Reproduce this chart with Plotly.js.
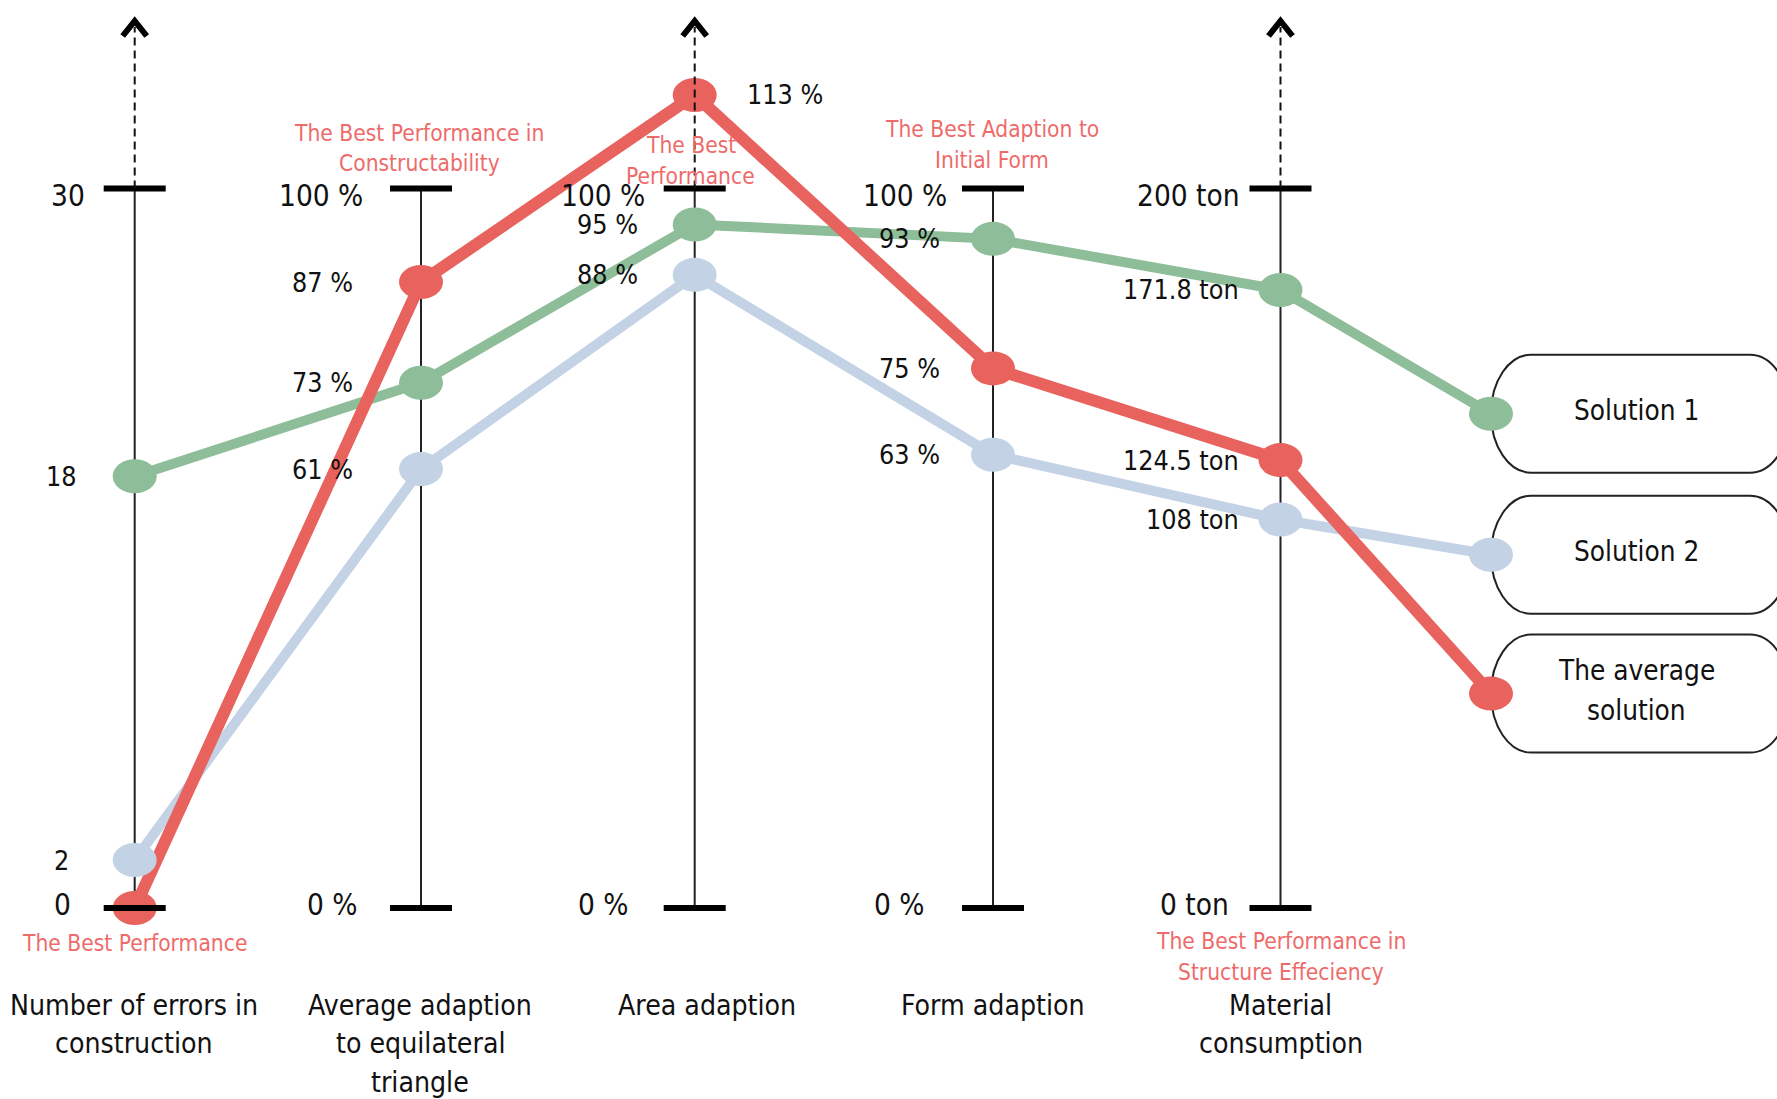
<!DOCTYPE html>
<html>
<head>
<meta charset="utf-8">
<script src="https://cdn.plot.ly/plotly-3.0.1.min.js"></script>
<style>
  html, body { margin: 0; padding: 0; background: #fff; overflow: hidden; }
  #chart { width: 1777px; height: 1099px; }
</style>
</head>
<body>
<div id="chart"></div>
<script>
// ---- Data -------------------------------------------------------------
// Parallel axes, left to right
const criteria = [
  ['Number of errors in', 'construction'],
  ['Average adaption', 'to equilateral', 'triangle'],
  ['Area adaption'],
  ['Form adaption'],
  ['Material', 'consumption']
];
const axisMax = [30, 100, 100, 100, 200];
const units = ['', ' %', ' %', ' %', ' ton'];

const seriesNames = [['Solution 1'], ['Solution 2'], ['The average', 'solution']];
const solution1 = [18, 73, 95, 93, 171.8];
const solution2 = [2, 61, 88, 63, 108];
const averageSolution = [0, 87, 113, 75, 124.5];

const bestNotes = [
  ['The Best Performance'],
  ['The Best Performance in', 'Constructability'],
  ['The Best', 'Performance'],
  ['The Best Adaption to', 'Initial Form'],
  ['The Best Performance in', 'Structure Effeciency']
];

// ---- Layout constants (pixels) ----------------------------------------
const W = 1777, H = 1099;
const AXIS_X = [134.7, 421, 694.7, 993, 1280.5];
const OPEN_TOP = [true, false, true, false, true];     // axes drawn with an upward arrow
const KEY_X = 1491;
const KEY_Y = [0.687, 0.491, 0.298];                    // key pill centres, fraction of axis height
const Y_BOTTOM = 908, Y_TOP = 188.5;
const UNIT = Y_BOTTOM - Y_TOP;
const yRange = [-(H - Y_BOTTOM) / UNIT, Y_BOTTOM / UNIT];

const FONT = "'DejaVu Sans Condensed', 'DejaVu Sans', sans-serif";
const INK = '#111111';
const NOTE_RED = '#EE6B6B';
const SIZE = { title: 28.2, key: 27.7, note: 22.6, tick: 29.5, value: 26.7 };

const paperY = py => 1 - py / H;
const frac = py => (Y_BOTTOM - py) / UNIT;
const fracToPx = f => Y_BOTTOM - f * UNIT;

// label offsets next to each axis
const DATA_DX   = [-73, -66, -55, -51, -40];
const TOP_DX    = [-67, -56, -48, -44, -38.5];
const BOTTOM_DX = [-72, -61, -64, -66, -50];
const anchorFor = i => (i === 0 ? 'center' : 'right');

const series = [
  { values: solution2,       key: 1, color: '#C3D2E5', width: 10 },
  { values: solution1,       key: 0, color: '#8DBD99', width: 10 },
  { values: averageSolution, key: 2, color: '#E8625E', width: 12 }
];

// ---- Traces: one polyline per solution, ending at its key pill --------
const traces = series.map(s => ({
  type: 'scatter',
  mode: 'lines',
  x: AXIS_X.concat([KEY_X]),
  y: s.values.map((v, i) => v / axisMax[i]).concat([KEY_Y[s.key]]),
  line: { color: s.color, width: s.width },
  hoverinfo: 'skip',
  showlegend: false
}));

// ---- Shapes -----------------------------------------------------------
const shapes = [];

// thin axis spines (under the lines)
AXIS_X.forEach(x => {
  shapes.push({ type: 'line', layer: 'below', xref: 'x', yref: 'y',
    x0: x, x1: x, y0: 0, y1: 1, line: { color: '#222', width: 2 } });
});

// key pills
function pillPath(xl, xr, yc, h, rx) {
  const k = 0.5523, ry = h / 2, yt = yc - ry, yb = yc + ry;
  const p = (x, y) => x.toFixed(2) + ',' + paperY(y).toFixed(5);
  return 'M' + p(xl + rx, yt) + ' L' + p(xr - rx, yt) +
    ' C' + p(xr - rx + k * rx, yt) + ' ' + p(xr, yc - k * ry) + ' ' + p(xr, yc) +
    ' C' + p(xr, yc + k * ry) + ' ' + p(xr - rx + k * rx, yb) + ' ' + p(xr - rx, yb) +
    ' L' + p(xl + rx, yb) +
    ' C' + p(xl + rx - k * rx, yb) + ' ' + p(xl, yc + k * ry) + ' ' + p(xl, yc) +
    ' C' + p(xl, yc - k * ry) + ' ' + p(xl + rx - k * rx, yt) + ' ' + p(xl + rx, yt) + ' Z';
}
KEY_Y.forEach(f => {
  shapes.push({ type: 'path', layer: 'above', xref: 'x', yref: 'paper',
    path: pillPath(KEY_X, 1790, fracToPx(f), 118, 40),
    fillcolor: '#ffffff', line: { color: '#222', width: 2 } });
});

// elliptical point markers
function dot(x, y, color) {
  shapes.push({ type: 'circle', layer: 'above', xref: 'x', yref: 'y',
    xsizemode: 'pixel', ysizemode: 'pixel', xanchor: x, yanchor: y,
    x0: -22, x1: 22, y0: -17, y1: 17,
    fillcolor: color, line: { width: 0 } });
}
series.forEach(s => {
  s.values.forEach((v, i) => dot(AXIS_X[i], v / axisMax[i], s.color));
  dot(KEY_X, KEY_Y[s.key], s.color);
});

// tick bars, dashed extensions and arrow heads (drawn over the dots)
AXIS_X.forEach((x, i) => {
  [0, 1].forEach(f => shapes.push({ type: 'line', layer: 'above', xref: 'x', yref: 'y',
    x0: x - 31, x1: x + 31, y0: f, y1: f, line: { color: '#000', width: 6 } }));
  if (OPEN_TOP[i]) {
    shapes.push({ type: 'line', layer: 'above', xref: 'x', yref: 'y',
      x0: x, x1: x, y0: 1, y1: frac(27), line: { color: '#111', width: 2, dash: '8px,5px' } });
    shapes.push({ type: 'path', layer: 'above', xref: 'x', yref: 'paper',
      path: 'M' + (x - 12) + ',' + paperY(36) + ' L' + x + ',' + paperY(21) + ' L' + (x + 12) + ',' + paperY(36),
      line: { color: '#000', width: 6 } });
  }
});

// ---- Annotations -------------------------------------------------------
const annotations = [];
function textAt(text, x, yPx, size, color, anchor) {
  annotations.push({ text: text, x: x, y: paperY(yPx), xref: 'x', yref: 'paper',
    xanchor: anchor || 'center', yanchor: 'middle', showarrow: false,
    font: { family: FONT, size: size, color: color } });
}
function lines(arr, x, yFirst, gap, size, color) {
  arr.forEach((t, j) => textAt(t, x, yFirst + j * gap, size, color));
}

// axis titles
const TITLE_X = [134, 420, 707, 993, 1280.5];
criteria.forEach((c, i) => lines(c, TITLE_X[i], 1005, 38.5, SIZE.title, INK));

// red "best" notes
const NOTE_POS = [[134, 943], [419, 132.6], [690.5, 145], [991.6, 129.2], [1280.5, 940.7]];
bestNotes.forEach((n, i) => lines(n, NOTE_POS[i][0], NOTE_POS[i][1], 30.8, SIZE.note, NOTE_RED));

// axis end labels
AXIS_X.forEach((x, i) => {
  annotations.push({ text: axisMax[i] + units[i], x: x + TOP_DX[i], y: 1, xref: 'x', yref: 'y',
    xanchor: anchorFor(i), yanchor: 'middle', yshift: -7, showarrow: false,
    font: { family: FONT, size: SIZE.tick, color: INK } });
  annotations.push({ text: '0' + units[i], x: x + BOTTOM_DX[i], y: 0, xref: 'x', yref: 'y',
    xanchor: anchorFor(i), yanchor: 'middle', yshift: 3, showarrow: false,
    font: { family: FONT, size: SIZE.tick, color: INK } });
});

// value labels beside each point
series.forEach(s => {
  s.values.forEach((v, i) => {
    if (v === 0) return;                       // the axis "0" label already states it
    const f = v / axisMax[i];
    const above = f > 1;                       // values past the top go right of the axis
    annotations.push({ text: v + units[i], xref: 'x', yref: 'y',
      x: above ? AXIS_X[i] + 50 : AXIS_X[i] + DATA_DX[i], y: f,
      xanchor: above ? 'left' : anchorFor(i), yanchor: 'middle', showarrow: false,
      font: { family: FONT, size: SIZE.value, color: INK } });
  });
});

// key labels
KEY_Y.forEach((f, k) => {
  const name = seriesNames[k];
  const yc = fracToPx(f);
  const gap = 40;
  const first = yc - 3 - (name.length - 1) * gap / 2;
  lines(name, 1636, first, gap, SIZE.key, INK);
});

// ---- Plot --------------------------------------------------------------
const layout = {
  width: W, height: H,
  margin: { l: 0, r: 0, t: 0, b: 0, pad: 0 },
  paper_bgcolor: '#ffffff', plot_bgcolor: '#ffffff',
  showlegend: false,
  xaxis: { range: [0, W], visible: false, fixedrange: true },
  yaxis: { range: yRange, visible: false, fixedrange: true },
  shapes: shapes,
  annotations: annotations
};

Plotly.newPlot('chart', traces, layout, { staticPlot: true, displayModeBar: false });
</script>
</body>
</html>
